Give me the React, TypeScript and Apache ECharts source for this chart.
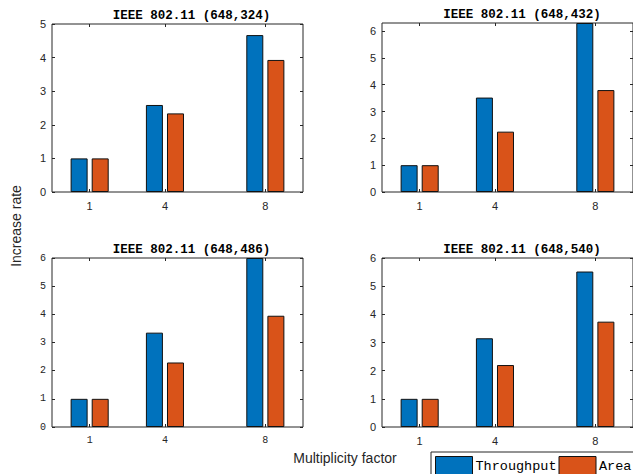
import React, { useEffect, useRef } from "react";
import * as echarts from "echarts";

const categories = [1, 4, 8];
const seriesNames = ["Throughput", "Area"];
const titles = [
  "IEEE 802.11 (648,324)",
  "IEEE 802.11 (648,432)",
  "IEEE 802.11 (648,486)",
  "IEEE 802.11 (648,540)",
];
const throughput324 = [1.0, 2.59, 4.67];
const area324 = [1.0, 2.34, 3.93];
const throughput432 = [1.0, 3.52, 6.3];
const area432 = [1.0, 2.25, 3.8];
const throughput486 = [1.0, 3.35, 6.0];
const area486 = [1.0, 2.29, 3.95];
const throughput540 = [1.0, 3.15, 5.52];
const area540 = [1.0, 2.2, 3.74];
const yMaxes = [5, 6.3, 6, 6];
const yTicks0 = [0, 1, 2, 3, 4, 5];
const yTicks1 = [0, 1, 2, 3, 4, 5, 6];
const xLabel = "Multiplicity factor";
const yLabel = "Increase rate";

const BLUE = "#0072BD";
const ORANGE = "#D95319";
const AX = "#262626";

export default function App() {
  const ref = useRef<HTMLDivElement>(null);
  useEffect(() => {
    if (!ref.current) return;
    const chart = echarts.init(ref.current, null, { renderer: "svg" });
    const grids = [
      { left: 52, top: 24, width: 251, height: 168 },
      { left: 382, top: 23, width: 252, height: 169 },
      { left: 52, top: 258, width: 251, height: 169 },
      { left: 382, top: 258, width: 252, height: 169 },
    ];
    const data = [
      [throughput324, area324],
      [throughput432, area432],
      [throughput486, area486],
      [throughput540, area540],
    ];
    const yTickSets = [yTicks0, yTicks1, yTicks1, yTicks1];
    const fonts = [
      { family: "Liberation Sans, Arial, sans-serif", size: 11 },
      { family: "Liberation Sans, Arial, sans-serif", size: 11 },
      { family: "Liberation Mono, Courier New, monospace", size: 10 },
      { family: "Liberation Sans, Arial, sans-serif", size: 11 },
    ];
    const xAxes: any[] = [];
    const yAxes: any[] = [];
    const series: any[] = [];
    const graphics: any[] = [];
    const tick = (vals: number[]) => ({
      show: true,
      inside: true,
      length: 3,
      customValues: vals,
      lineStyle: { color: AX },
    });
    grids.forEach((g, i) => {
      const f = fonts[i];
      xAxes.push({
        type: "value",
        gridIndex: i,
        min: -0.5,
        max: 9.5,
        position: "bottom",
        axisLine: { show: false, onZero: false },
        splitLine: { show: false },
        axisTick: tick(categories),
        axisLabel: {
          customValues: categories,
          color: AX,
          fontFamily: f.family,
          fontSize: f.size,
          margin: 8,
        },
      });
      xAxes.push({
        type: "value",
        gridIndex: i,
        min: -0.5,
        max: 9.5,
        position: "top",
        axisLine: { show: false, onZero: false },
        splitLine: { show: false },
        axisTick: tick(categories),
        axisLabel: { show: false },
      });
      yAxes.push({
        type: "value",
        gridIndex: i,
        min: 0,
        max: yMaxes[i],
        position: "left",
        axisLine: { show: false, onZero: false },
        splitLine: { show: false },
        axisTick: tick(yTickSets[i]),
        axisLabel: {
          customValues: yTickSets[i],
          color: AX,
          fontFamily: f.family,
          fontSize: f.size,
          margin: 6,
        },
      });
      yAxes.push({
        type: "value",
        gridIndex: i,
        min: 0,
        max: yMaxes[i],
        position: "right",
        axisLine: { show: false, onZero: false },
        splitLine: { show: false },
        axisTick: tick(yTickSets[i]),
        axisLabel: { show: false },
      });
      data[i].forEach((vals, k) => {
        series.push({
          type: "bar",
          name: seriesNames[k],
          xAxisIndex: i * 2,
          yAxisIndex: i * 2,
          data: categories.map((c, j) => [c, vals[j]]),
          barWidth: 17,
          barGap: "24%",
          clip: true,
          itemStyle: { color: k === 0 ? BLUE : ORANGE, borderColor: "#111", borderWidth: 1 },
        });
      });
      graphics.push({
        type: "text",
        x: g.left + g.width / 2 + 14,
        y: g.top - 8,
        style: {
          text: titles[i],
          align: "center",
          verticalAlign: "middle",
          fontFamily: "Liberation Mono, Courier New, monospace",
          fontWeight: "bold",
          fontSize: 12.5,
          fill: "#000",
        },
      });
    });
    graphics.push({
      type: "text",
      x: 16,
      y: 226,
      rotation: Math.PI / 2,
      style: {
        text: yLabel,
        align: "center",
        verticalAlign: "middle",
        fontFamily: "Liberation Sans, Arial, sans-serif",
        fontSize: 14,
        fill: AX,
      },
    });
    graphics.push({
      type: "text",
      x: 345,
      y: 458,
      style: {
        text: xLabel,
        align: "center",
        verticalAlign: "middle",
        fontFamily: "Liberation Sans, Arial, sans-serif",
        fontSize: 14,
        fill: AX,
      },
    });

    chart.setOption({
      animation: false,
      backgroundColor: "#fff",
      grid: grids.map((g) => ({
        ...g,
        show: true,
        borderColor: AX,
        borderWidth: 1,
        backgroundColor: "transparent",
        containLabel: false,
      })),
      xAxis: xAxes,
      yAxis: yAxes,
      series,
      graphic: graphics,
      legend: {
        data: seriesNames,
        left: 431,
        top: 452,
        width: 300,
        orient: "horizontal",
        padding: [4, 4, 4, 4],
        itemGap: 2,
        itemWidth: 37,
        itemHeight: 20,
        icon: "rect",
        borderColor: AX,
        borderWidth: 1,
        backgroundColor: "#fff",
        textStyle: {
          fontFamily: "Liberation Mono, Courier New, monospace",
          fontSize: 13.5,
          color: "#000",
          padding: [0, 0, 0, -2],
        },
        itemStyle: { borderColor: "#111", borderWidth: 1 },
      },
    });
    return () => chart.dispose();
  }, []);
  return (
    <div
      ref={ref}
      style={{ position: "absolute", left: 0, top: 0, width: 633, height: 474 }}
    />
  );
}
